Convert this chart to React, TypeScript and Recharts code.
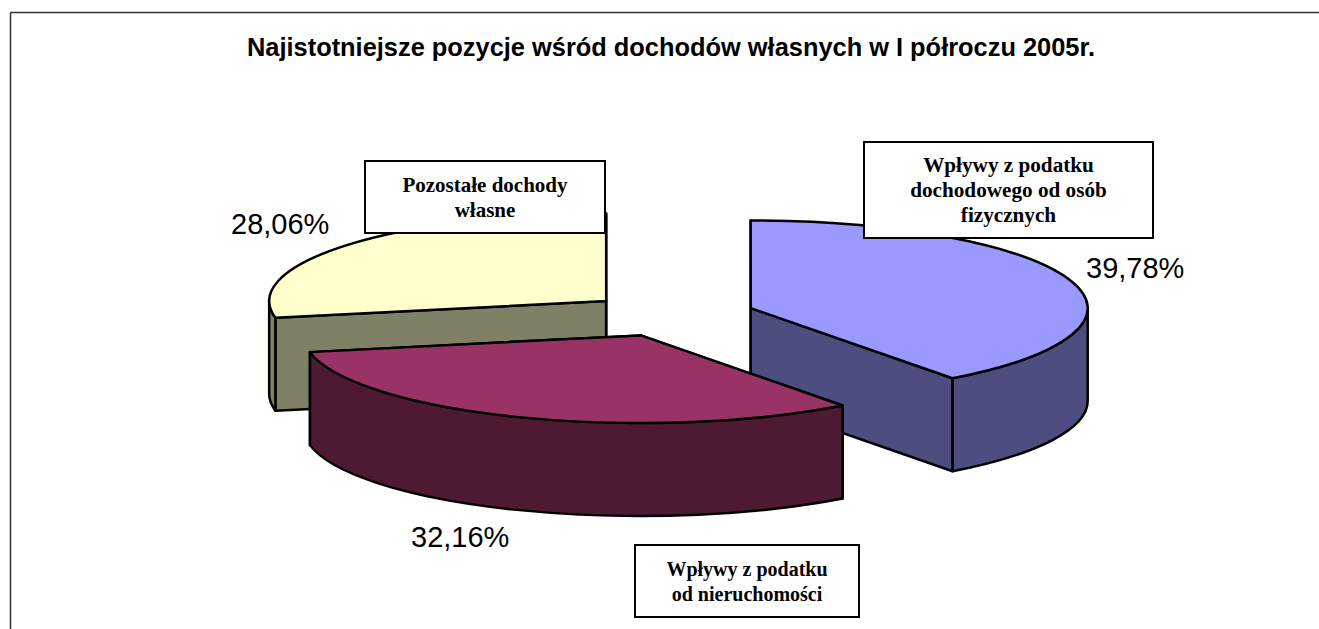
import React from 'react';
import { PieChart, Pie, Cell } from 'recharts';

// ---------------------------------------------------------------------------
// Data (ordered back to front, so the front slice is painted last)
// ---------------------------------------------------------------------------

const NAMES = ['Pozostałe dochody własne', 'Wpływy z podatku dochodowego od osób fizycznych', 'Wpływy z podatku od nieruchomości'];
const VALUES = [28.06, 39.78, 32.16];
const COLORS = ['#FFFFCC', '#9999FF', '#993366'];
const WALL_COLORS = ['#808066', '#4D4D80', '#4D1933'];
const TITLE = 'Najistotniejsze pozycje wśród dochodów własnych w I półroczu 2005r.';

const chartData = NAMES.map((name, i) => ({ name, value: VALUES[i] }));

// ---------------------------------------------------------------------------
// Layout
// ---------------------------------------------------------------------------

const WIDTH = 1319;
const HEIGHT = 629;
const TILT = 0.26; // vertical squash of the pie
const DEPTH = 93; // extrusion of the slices
const EXPLODE = 84;
const START_ANGLE = -168.98; // first slice begins here so the blue one starts at 12 o'clock

const PERCENT_POS = [
  { x: 231, y: 234 },
  { x: 1086, y: 278 },
  { x: 411, y: 547 },
];

const BOXES = [
  { x: 365, y: 161, w: 240, h: 72, lines: ['Pozostałe dochody', 'własne'], firstBaseline: 192, size: 21 },
  { x: 864, y: 142, w: 289, h: 96, lines: ['Wpływy z podatku', 'dochodowego od osób', 'fizycznych'], firstBaseline: 172, size: 21.2 },
  { x: 635, y: 545, w: 224, h: 72, lines: ['Wpływy z podatku', 'od nieruchomości'], firstBaseline: 576, size: 20 },
];

// ---------------------------------------------------------------------------
// 3D slice drawn from the angles the Pie computed
// ---------------------------------------------------------------------------

function Slice3D(props: any) {
  const { cx, cy, outerRadius: r, startAngle, endAngle, midAngle, fill, index } = props;
  const rad = Math.PI / 180;
  const ry = r * TILT;
  const ox = cx + EXPLODE * Math.cos(midAngle * rad);
  const oy = cy - EXPLODE * TILT * Math.sin(midAngle * rad);
  const pt = (a: number, d = 0) => `${ox + r * Math.cos(a * rad)} ${oy - ry * Math.sin(a * rad) + d}`;
  const arc = (to: number, large: number, sweep: number, d = 0) =>
    `A ${r} ${ry} 0 ${large} ${sweep} ${pt(to, d)}`;
  const centre = (d = 0) => `${ox} ${oy + d}`;

  const top = `M ${centre()} L ${pt(startAngle)} ${arc(endAngle, Math.abs(startAngle - endAngle) > 180 ? 1 : 0, 1)} Z`;
  const cut = (a: number) => `M ${centre()} L ${pt(a)} L ${pt(a, DEPTH)} L ${centre(DEPTH)} Z`;

  // the outer wall only shows on the front half of the ellipse
  const walls: string[] = [];
  [[0, -180], [-360, -540]].forEach(([hi, lo]) => {
    const a = Math.min(startAngle, hi);
    const b = Math.max(endAngle, lo);
    if (a > b) {
      walls.push(`M ${pt(a)} ${arc(b, 0, 1)} L ${pt(b, DEPTH)} ${arc(a, 0, 0, DEPTH)} Z`);
    }
  });

  const wall = WALL_COLORS[index ?? VALUES.findIndex((v) => v === props.value)];
  const line = { stroke: '#000', strokeWidth: 2.5, strokeLinejoin: 'round' as const };
  return (
    <g>
      <path d={cut(startAngle)} fill={wall} {...line} />
      <path d={cut(endAngle)} fill={wall} {...line} />
      {walls.map((d, i) => (
        <path key={i} d={d} fill={wall} {...line} />
      ))}
      <path d={top} fill={fill} {...line} />
    </g>
  );
}

// ---------------------------------------------------------------------------
// Percent label + note box
// ---------------------------------------------------------------------------

function renderLabel(props: any) {
  const i = props.index;
  const box = BOXES[i];
  const pos = PERCENT_POS[i];
  return (
    <g key={i}>
      <rect x={box.x} y={box.y} width={box.w} height={box.h} fill="#fff" stroke="#000" strokeWidth={2} />
      {box.lines.map((l, j) => (
        <text
          key={j}
          x={box.x + box.w / 2}
          y={box.firstBaseline + j * 25}
          textAnchor="middle"
          fontFamily="'Liberation Serif', serif"
          fontWeight="bold"
          fontSize={box.size}
          fill="#000"
        >
          {l}
        </text>
      ))}
      <text x={pos.x} y={pos.y} fontFamily="'Liberation Sans', sans-serif" fontSize={29} fill="#000">
        {VALUES[i].toFixed(2).replace('.', ',')}%
      </text>
    </g>
  );
}

export default function App() {
  return (
    <div style={{ position: 'absolute', left: 0, top: 0, width: WIDTH, height: HEIGHT, background: '#fff' }}>
      <PieChart width={WIDTH} height={HEIGHT} margin={{ top: 0, right: 0, bottom: 0, left: 0 }}>
        <line x1={10.5} y1={12.5} x2={WIDTH} y2={12.5} stroke="#333" strokeWidth={1.5} />
        <line x1={10.5} y1={12.5} x2={10.5} y2={HEIGHT} stroke="#333" strokeWidth={1.5} />
        <text
          x={671}
          y={56}
          textAnchor="middle"
          fontFamily="'Liberation Sans', sans-serif"
          fontWeight="bold"
          fontSize={25.4}
          fill="#000"
        >
          {TITLE}
        </text>
        <Pie
          data={chartData}
          dataKey="value"
          nameKey="name"
          cx={671}
          cy={315}
          innerRadius={0}
          outerRadius={337}
          startAngle={START_ANGLE}
          endAngle={START_ANGLE - 360}
          paddingAngle={0}
          labelLine={false}
          label={renderLabel}
          shape={Slice3D}
          isAnimationActive={false}
        >
          {chartData.map((_entry, index) => (
            <Cell key={`cell-${index}`} fill={COLORS[index]} />
          ))}
        </Pie>
      </PieChart>
    </div>
  );
}
